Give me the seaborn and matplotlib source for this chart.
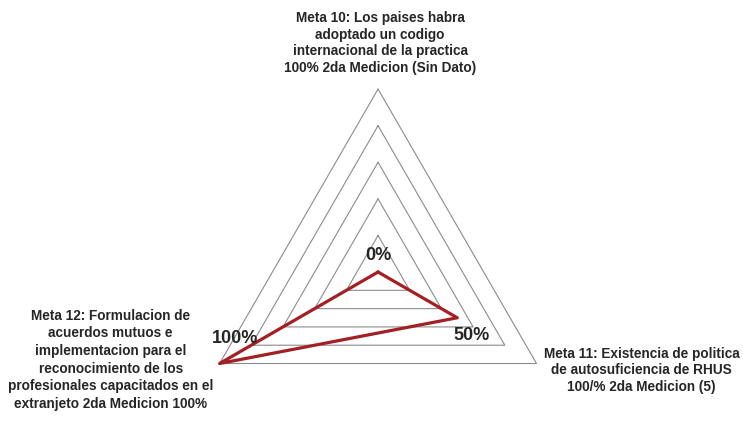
import numpy as np
import pandas as pd
import seaborn as sns
import matplotlib.pyplot as plt

# Datos del grafico radar
metas = ["Meta 10: Los paises habra\nadoptado un codigo\ninternacional de la practica\n100% 2da Medicion (Sin Dato)",
         "Meta 11: Existencia de politica\nde autosuficiencia de RHUS\n100/% 2da Medicion (5)",
         "Meta 12: Formulacion de\nacuerdos mutuos e\nimplementacion para el\nreconocimiento de los\nprofesionales capacitados en el\nextranjeto 2da Medicion 100%"]
valores = [0, 50, 100]
etiquetas = ["0%", "50%", "100%"]
niveles = [20, 40, 60, 80, 100]

sns.set_style('white')
plt.rcParams['font.family'] = ['Liberation Sans Narrow', 'Liberation Sans', 'DejaVu Sans']

fig = plt.figure(figsize=(7.43, 4.29), dpi=100)
ax = fig.add_axes([0.2625, -0.0606, 0.4926, 0.853], projection='polar')
ax.set_theta_offset(np.pi / 2)
ax.set_theta_direction(-1)
ax.set_facecolor('none')

ang = np.linspace(0, 2 * np.pi, len(metas), endpoint=False)
ang_c = np.append(ang, ang[0])

# anillos triangulares
for n in niveles:
    ax.plot(ang_c, [n] * len(ang_c), color='#8c8c8c', lw=0.8, clip_on=False)

df = pd.DataFrame({'ang': ang_c, 'valor': valores + [valores[0]]})
sns.lineplot(data=df, x='ang', y='valor', sort=False, ax=ax, color='#A31F24', lw=2.3,
             estimator=None)
for l in ax.lines:
    l.set_clip_on(False)

ax.set_ylim(0, 100)
ax.grid(False)
ax.spines['polar'].set_visible(False)
ax.set_xticks([])
ax.set_yticks([])
ax.set_xlabel('')
ax.set_ylabel('')

# etiquetas de datos
off_datos = [(0, 17), (14, -18), (15, 25)]
for a, v, t, o in zip(ang, valores, etiquetas, off_datos):
    ax.annotate(t, (a, v), xytext=o, textcoords='offset pixels', ha='center', va='center',
                fontsize=13, fontweight='bold', annotation_clip=False)

# etiquetas de categorias
off_cat = [(2, 14, 'bottom', 1.25), (105, 17, 'top', 1.25), (-109, 55, 'top', 1.34)]
for a, t, (dx, dy, va, ls) in zip(ang, metas, off_cat):
    ax.annotate(t, (a, 100), xytext=(dx, dy), textcoords='offset pixels', ha='center', va=va,
                multialignment='center', fontsize=9.8, fontweight='bold', linespacing=ls,
                annotation_clip=False)

fig.savefig('out.png', dpi=100)
